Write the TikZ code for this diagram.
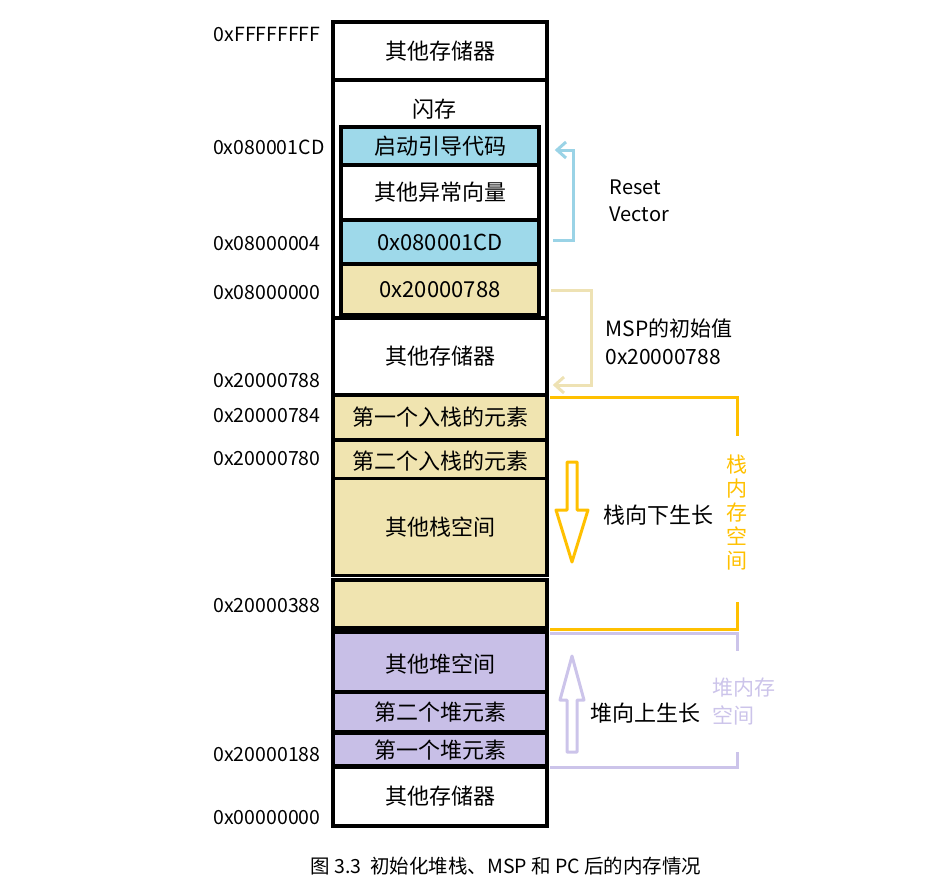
\documentclass[tikz,border=0pt]{standalone}
\usepackage{fontspec}
\setmainfont{Noto Sans CJK SC}
\newfontfamily\capfont{Noto Sans CJK SC}
\begin{document}
\begin{tikzpicture}[x=1pt,y=-1pt,
  cell/.style={draw=black,line width=3.2pt,minimum width=214pt,inner sep=0pt,font=\fontsize{22}{25}\selectfont},
  icell/.style={draw=black,line width=3.2pt,minimum width=198pt,inner sep=0pt,font=\fontsize{22}{25}\selectfont},
  addr/.style={anchor=east,font=\fontsize{19.5}{22}\selectfont},
  lbl/.style={anchor=west,font=\fontsize{22}{25}\selectfont}]
\definecolor{cy}{HTML}{9ED9EA}
\definecolor{tan}{HTML}{F0E4B0}
\definecolor{pu}{HTML}{C8BFE7}
\definecolor{yel}{HTML}{FFC000}
\definecolor{cyl}{HTML}{9AD3E6}
\definecolor{tanl}{HTML}{EEE2B4}
\definecolor{pul}{HTML}{CCC4EA}
\useasboundingbox (0,0) rectangle (927,886);
% main column cells
\node[cell,minimum height=58pt] (m1) at (440,51) {其他存储器};
\node[cell,minimum height=238pt] (fl) at (440,199) {};
\node[font=\fontsize{22}{25}\selectfont] (flt) at (434,109) {闪存};
\node[icell,fill=cy,minimum height=38pt] (f1) at (440,146) {启动引导代码};
\node[icell,minimum height=55pt] (f2) at (440,192.5) {其他异常向量};
\node[icell,fill=cy,minimum height=44pt] (f3) at (440,242) {0x080001CD};
\node[icell,fill=tan,minimum height=51pt] (f4) at (440,289.5) {0x20000788};
\node[cell,minimum height=77pt] (m2) at (440,356.5) {其他存储器};
\node[cell,fill=tan,minimum height=45pt] (s1) at (440,417.5) {第一个入栈的元素};
\node[cell,fill=tan,minimum height=43pt] (s2) at (440,461.5) {第二个入栈的元素};
\node[cell,fill=tan,minimum height=97pt] (s3) at (440,527) {其他栈空间};
\node[cell,fill=tan,minimum height=48pt] (s4) at (440,604) {};
\node[cell,fill=pu,minimum height=64pt] (h1) at (440,664) {其他堆空间};
\node[cell,fill=pu,minimum height=40pt] (h2) at (440,712) {第二个堆元素};
\node[cell,fill=pu,minimum height=34pt] (h3) at (440,750) {第一个堆元素};
\node[cell,minimum height=60pt] (m3) at (440,796) {其他存储器};
\node[cell,minimum height=58pt,fill=none] (m1b) at (440,51) {};
% addresses
\node[addr] (a1) at (324,34) {0xFFFFFFFF};
\node[addr] (a2) at (328,147) {0x080001CD};
\node[addr] (a3) at (324,244) {0x08000004};
\node[addr] (a4) at (324,293) {0x08000000};
\node[addr] (a5) at (324,381) {0x20000788};
\node[addr] (a6) at (324,416) {0x20000784};
\node[addr] (a7) at (324,459) {0x20000780};
\node[addr] (a8) at (324,606) {0x20000388};
\node[addr] (a9) at (324,755) {0x20000188};
\node[addr] (a10) at (324,818) {0x00000000};
% reset vector bracket
\coordinate (r0) at (553,240);
\coordinate (r1) at (557,150);
\draw[cyl,line width=3pt,line join=miter] (r0) -- (573,240) -- (573,150) -- (r1);
\draw[cyl,line width=3pt] (566,142) -- (r1) -- (566,158);
\node[lbl,font=\fontsize{20}{22}\selectfont,align=left] (rv) at (606,201) {Reset\\[5pt]Vector};
% MSP bracket
\coordinate (p0) at (551,290);
\coordinate (p1) at (555,385);
\draw[tanl,line width=3pt] (p0) -- (591,290) -- (591,385) -- (p1);
\draw[tanl,line width=3pt] (564,377) -- (p1) -- (564,393);
\node[lbl,align=left,font=\fontsize{21}{28}\selectfont] (msp) at (602,342) {MSP的初始值\\0x20000788};
% stack bracket
\coordinate (y0) at (550,397);
\coordinate (y1) at (550,629);
\draw[yel,line width=3pt] (y0) -- (737,397) -- (737,436);
\draw[yel,line width=3pt] (737,602) -- (737,629) -- (y1);
\node[font=\fontsize{21}{24}\selectfont,text=yel,align=center] (st) at (737,513) {栈\\内\\存\\空\\间};
% heap bracket
\coordinate (h0) at (550,633);
\coordinate (hh) at (550,767);
\draw[pul,line width=3pt] (h0) -- (737,633) -- (737,651);
\draw[pul,line width=3pt] (737,752) -- (737,767) -- (hh);
\node[font=\fontsize{21}{28}\selectfont,text=pul,align=left,anchor=west] (ht) at (709,702) {堆内存\\空间};
% arrows
\draw[yel,line width=3pt,line join=round] (567,462) -- (577,462) -- (577,510) -- (588,510) -- (572,562) -- (556,510) -- (567,510) -- cycle;
\node[lbl] (sg) at (600,515) {栈向下生长};
\draw[pul,line width=3pt,line join=round] (567,752) -- (577,752) -- (577,700) -- (584,700) -- (572,656) -- (560,700) -- (567,700) -- cycle;
\node[lbl] (hg) at (587,713) {堆向上生长};
% caption
\node[font=\fontsize{19.5}{22}\selectfont] (cap) at (506,866) {\capfont 图 3.3\ \ 初始化堆栈、MSP 和 PC 后的内存情况};
\end{tikzpicture}
\end{document}
